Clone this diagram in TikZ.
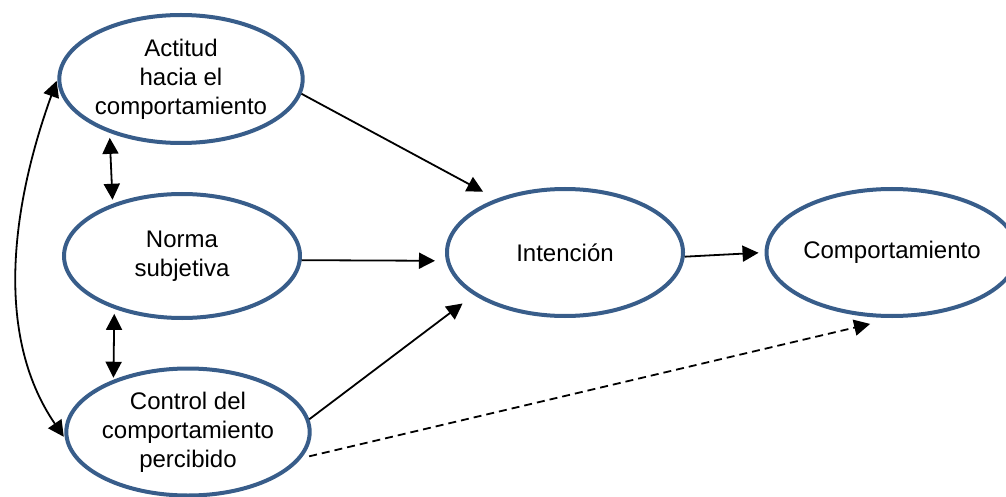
\documentclass[tikz,border=0pt]{standalone}
\usepackage{fontspec}
\setmainfont{Liberation Sans}
\usetikzlibrary{shapes.geometric,arrows.meta}
\definecolor{consblue}{RGB}{56,93,138}
\tikzset{
  % --- constructs of the model ----------------------------------------------
  cons/.style={ellipse,draw=consblue,line width=4pt,inner sep=0pt,align=center,
               font=\fontsize{24}{29}\selectfont},
  % --- links -----------------------------------------------------------------
  ar/.style={-{Triangle[length=16pt,width=16pt]},line width=1.8pt},
  dar/.style={{Triangle[length=16pt,width=16pt]}-{Triangle[length=16pt,width=16pt]},
              line width=1.8pt},
  direct/.style={ar,dash pattern=on 8pt off 5pt},
}
\begin{document}
\begin{tikzpicture}[x=1pt,y=-1pt]
  \useasboundingbox (0,0) rectangle (1006,497);
  \node[cons,minimum width=234pt,minimum height=128pt] (act) at (181,79) {Actitud\\hacia el\\comportamiento};
  \node[cons,minimum width=236pt,minimum height=124pt] (norma) at (182,256) {Norma\\subjetiva};
  \node[cons,minimum width=236pt,minimum height=127pt] (ctrl) at (188,432) {Control del\\comportamiento\\percibido};
  \node[cons,minimum width=236pt,minimum height=127pt] (int) at (565,252.5) {Intención};
  \node[cons,minimum width=226pt,minimum height=127pt] (comp) at (892,252.5) {Comportamiento};
  % antecedents -> intention
  \foreach \a/\b/\s in {act.-7/int.142/15pt,norma.-2/int.184/11pt,ctrl.6/int.205/14pt}
    \draw[ar,shorten >=\s] (\a) -- (\b);
  \draw[ar,shorten >=6pt] (int.-2) -- (comp.180);
  \draw[direct,shorten <=8pt,shorten >=26pt] (ctrl.-13) -- (comp.-87);
  % correlations
  \draw[dar,shorten <=5pt,shorten >=4pt] (act.217) -- (norma.143);
  \draw[dar,shorten <=5pt,shorten >=2pt] (norma.218) -- (ctrl.145);
  \draw[dar,shorten <=2pt,shorten >=2pt] (act.west) .. controls (14,199) and (-8,332) .. (ctrl.183);
\end{tikzpicture}
\end{document}
